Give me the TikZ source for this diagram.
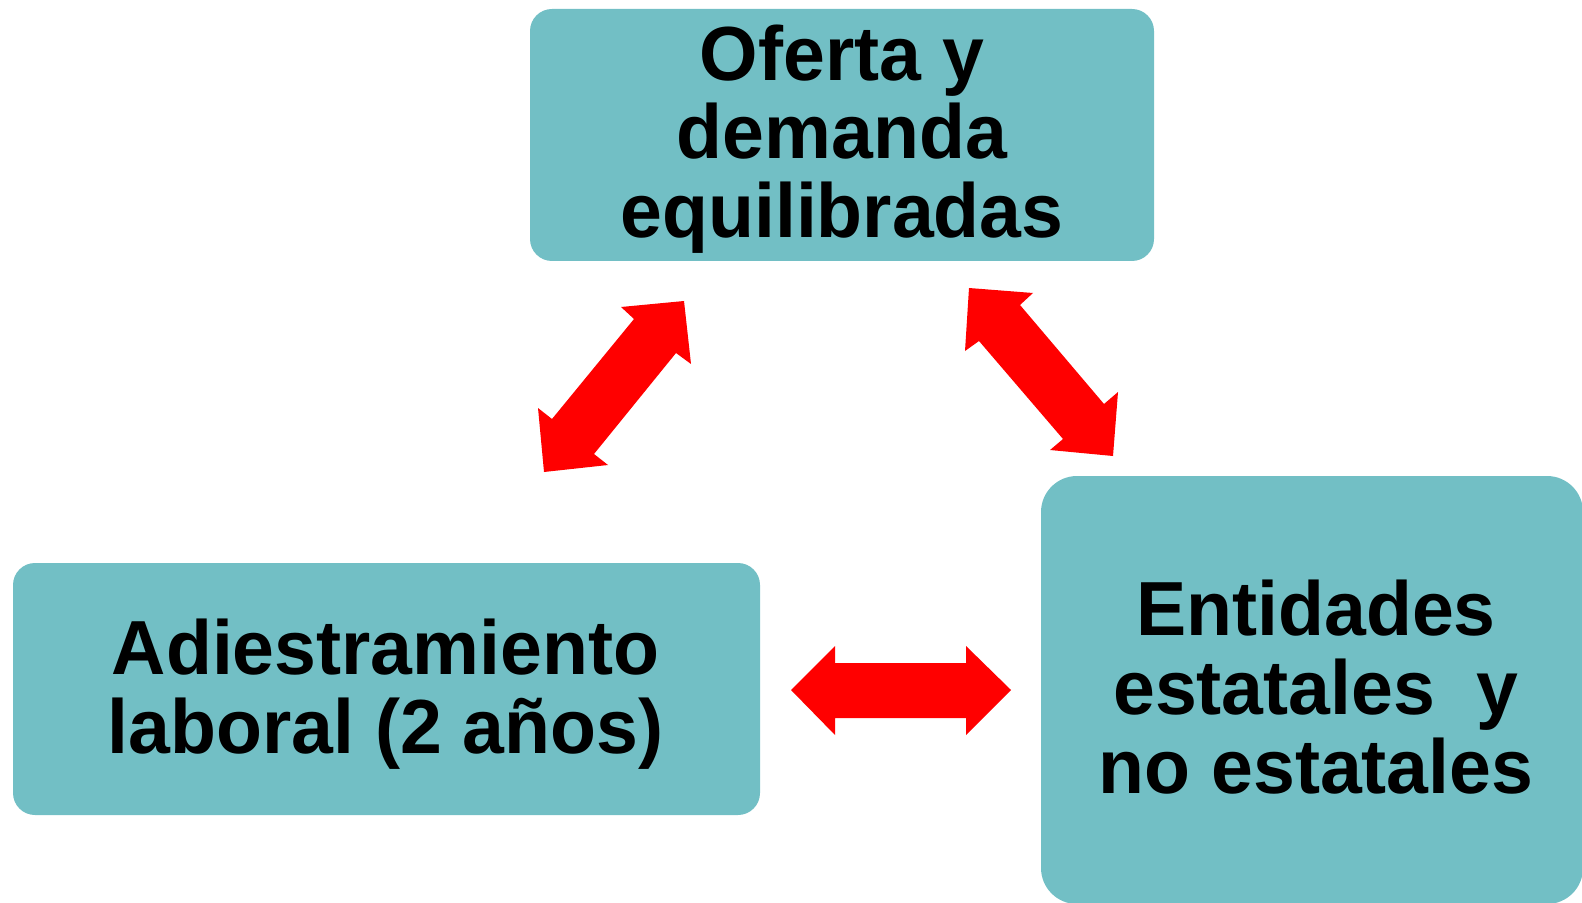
\documentclass[tikz,border=0pt]{standalone}
\usepackage{fontspec}
\setmainfont{Liberation Sans}
\definecolor{boxteal}{RGB}{114,191,197}
\definecolor{arrred}{RGB}{255,0,0}
\tikzset{
  boxnode/.style={fill=boxteal, draw=none, inner sep=0pt},
  boxtext/.style={inner sep=0pt, align=center, transform shape, yscale=1.02,
    font=\fontsize{37.6}{38.6}\selectfont\bfseries},
  blockarrow/.style={fill=arrred, draw=none}
}
\begin{document}
\begin{tikzpicture}[x=0.5pt,y=-0.5pt]
\useasboundingbox (0,0) rectangle (1582,903);
% boxes
\node[boxnode, rounded corners=11pt, minimum width=312pt, minimum height=126pt] (oferta) at (842,135) {};
\node[boxtext] (ofertatext) at (842,139) {Oferta y\\demanda\\equilibradas};
\node[boxnode, rounded corners=11pt, minimum width=373.5pt, minimum height=126pt] (adiestr) at (386.5,689) {};
\node[boxtext] (adiestrtext) at (385.5,694) {Adiestramiento\\laboral (2 años)};
\node[boxnode, rounded corners=18pt, minimum width=271pt, minimum height=214pt] (entidades) at (1312,690) {};
\node[boxtext] (entidadestext) at (1316,687) {Entidades\\estatales~ y\\no estatales};
% arrows
\fill[blockarrow] (621,307) -- (684,301) -- (691,364) -- (676,353) -- (594,454) -- (608,465)
  -- (544,472) -- (538,408) -- (552,419) -- (634,319) -- cycle;
\fill[blockarrow] (969,288) -- (1033,293) -- (1020,305) -- (1104,404) -- (1118,392) -- (1113,456)
  -- (1050,450) -- (1063,439) -- (979,341) -- (965,351) -- cycle;
\fill[blockarrow] (791,690) -- (835,646) -- (835,663) -- (966,663) -- (966,646) -- (1011,690)
  -- (966,735) -- (966,718) -- (835,718) -- (835,735) -- cycle;
\end{tikzpicture}
\end{document}
